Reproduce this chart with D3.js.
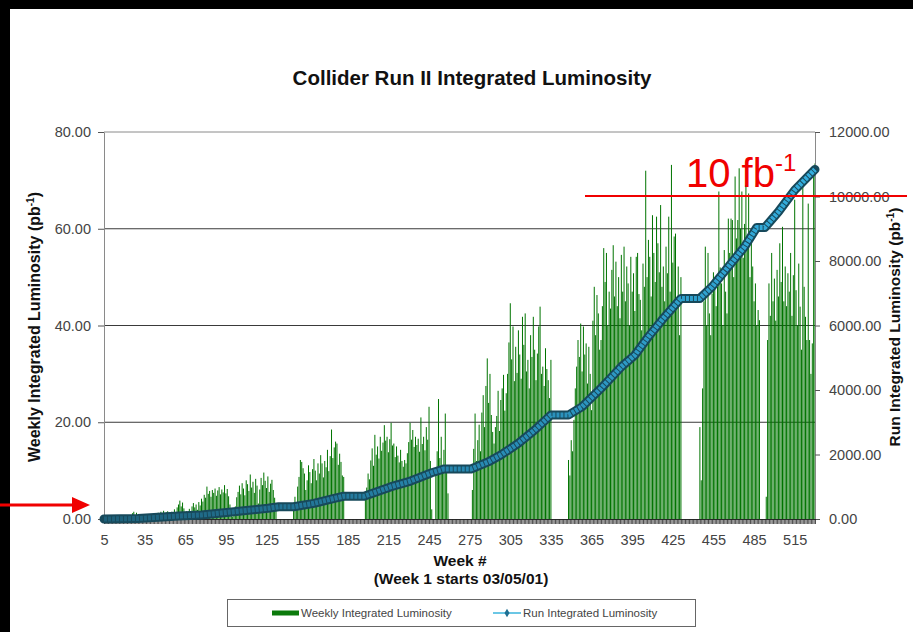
<!DOCTYPE html>
<html>
<head>
<meta charset="utf-8">
<script src="https://cdn.jsdelivr.net/npm/d3@7"></script>
<style>
body { margin: 0; background: #fff; }
svg { display: block; font-family: "Liberation Sans", Arial, sans-serif; }
</style>
</head>
<body>
<svg id="chart" width="913" height="632"></svg>
<script>
// week numbers run from firstWeek, one value per week
var firstWeek = 5;
var lastWeek = 530;

// weekly integrated luminosity (pb-1), rows of 10 weeks starting at week 5
var weekly = [
    0, 0, 0, 0, 0, 0, 0, 0, 0, 0,
    0, 0, 0, 0, 0, 0, 0, 0.2, 0.3, 0.3,
    0.5, 1.2, 1.5, 0.8, 1.3, 0.6, 0.4, 0.5, 0.3, 0.4,
    0.5, 0.6, 0.4, 0.8, 0.7, 1.0, 0.9, 1.2, 0.8, 1.1,
    1.3, 1.0, 1.5, 1.2, 1.7, 1.1, 1.4, 1.6, 1.0, 1.3,
    1.5, 1.2, 2.0, 1.4, 2.4, 3.0, 3.8, 2.6, 3.4, 2.2,
    1.2, 1.6, 1.0, 2.1, 1.5, 2.6, 3.3, 2.4, 3.0, 1.9,
    3.5, 2.8, 4.2, 3.6, 5.0, 4.4, 6.7, 5.2, 5.8, 4.6,
    6.0, 5.4, 6.3, 4.8, 5.9, 6.6, 5.1, 6.1, 5.5, 7.0,
    5.3, 6.2, 4.7, 3.0, 1.2, 0.5, 0.8, 2.6, 4.5, 5.6,
    6.9, 5.1, 7.4, 6.3, 4.9, 8.0, 7.2, 5.8, 9.2, 6.5,
    7.7, 5.4, 8.3, 6.9, 3.2, 6.1, 8.5, 7.0, 9.6, 7.9,
    6.4, 8.8, 5.6, 7.3, 8.1, 6.0, 4.4, 2.1, 0, 0,
    0, 0, 0, 0, 0, 0, 0, 0, 0, 0,
    2.8, 4.6, 3.5, 6.7, 8.7, 12.2, 11.8, 10.5, 9.4, 6.0,
    8.0, 11.1, 9.7, 7.4, 10.3, 12.4, 10.0, 8.0, 11.5, 9.4,
    13.2, 11.5, 8.6, 12.0, 10.7, 14.3, 9.9, 13.0, 18.5, 12.6,
    14.8, 16.0, 15.6, 11.2, 13.5, 11.8, 9.0, 8.7, 0, 0,
    0, 0, 0, 0, 0, 0, 0, 0, 0, 0,
    0, 0, 0, 4.0, 6.5, 9.4, 8.2, 12.1, 14.6, 11.0,
    17.4, 13.3, 15.0, 12.5, 17.0, 14.1, 15.8, 19.4, 16.2, 17.0,
    13.8, 16.5, 19.9, 15.2, 15.6, 12.8, 15.0, 13.1, 11.7, 14.3,
    12.0, 10.8, 12.2, 11.5, 13.6, 15.9, 19.9, 16.4, 18.4, 14.9,
    17.0, 15.3, 16.6, 13.9, 21.0, 15.5, 17.0, 14.2, 19.0, 16.4,
    23.2, 12.0, 2.0, 0, 0, 10.5, 14.0, 24.8, 12.6, 17.0,
    11.2, 14.3, 21.8, 9.5, 5.3, 0, 0, 0, 0, 0,
    0, 0, 0, 0, 0, 0, 0, 0, 0, 0,
    0, 0, 6.0, 14.5, 21.8, 12.0, 16.3, 19.5, 14.0, 22.0,
    25.6, 19.0, 27.5, 33.2, 24.0, 30.0, 21.5, 18.0, 15.6, 19.0,
    21.3, 26.5, 18.2, 24.6, 27.0, 29.8, 22.4, 26.0, 30.0, 36.5,
    44.6, 33.0, 39.8, 28.5, 35.6, 30.2, 39.0, 34.0, 29.0, 41.8,
    36.0, 42.5, 30.5, 32.9, 27.0, 38.0, 33.5, 41.8, 35.0, 28.7,
    34.2, 39.8, 43.9, 30.0, 31.5, 27.5, 35.3, 31.0, 28.7, 25.0,
    32.9, 0, 0, 0, 0, 0, 0, 0, 0, 0,
    0, 0, 0, 12.2, 9.0, 16.3, 14.0, 20.5, 27.0, 31.5,
    37.0, 33.5, 40.4, 30.5, 39.8, 34.0, 36.3, 28.0, 35.6, 30.0,
    22.5, 41.0, 48.0, 38.0, 46.3, 42.5, 35.0, 37.0, 44.0, 56.0,
    49.0, 55.0, 40.0, 47.0, 43.5, 51.5, 56.6, 46.0, 53.2, 44.0,
    50.0, 41.5, 54.6, 47.0, 56.3, 45.0, 52.2, 48.7, 40.0, 54.2,
    47.0, 50.8, 43.0, 54.2, 55.0, 46.5, 45.3, 39.0, 52.8, 48.0,
    72.0, 50.0, 57.7, 54.2, 46.0, 62.8, 55.0, 49.0, 62.5, 57.0,
    51.0, 64.9, 48.0, 52.2, 45.0, 56.3, 50.8, 62.5, 47.0, 73.2,
    53.0, 58.4, 59.0, 44.0, 52.2, 38.0, 50.0, 0, 0, 0,
    0, 0, 0, 0, 0, 0, 0, 0, 0, 0,
    19.0, 8.0, 27.0, 45.0, 56.3, 40.0, 55.0, 42.5, 38.0, 46.6,
    51.0, 48.7, 44.0, 48.0, 67.7, 52.0, 48.7, 40.0, 55.6, 47.0,
    42.5, 62.1, 55.0, 62.1, 61.8, 50.0, 70.8, 58.0, 61.8, 72.5,
    60.0, 67.7, 54.0, 61.0, 69.0, 56.0, 67.3, 50.0, 58.4, 52.2,
    45.0, 48.7, 40.0, 43.2, 41.1, 0, 0, 0, 0, 4.6,
    37.0, 48.7, 42.0, 55.0, 45.0, 49.7, 41.0, 51.5, 46.0, 57.0,
    49.0, 60.4, 45.0, 52.2, 44.0, 50.8, 47.0, 55.0, 42.0, 50.4,
    66.0, 47.3, 40.0, 52.8, 43.9, 35.0, 69.4, 48.0, 41.8, 37.0,
    65.2, 37.0, 30.0, 36.3, 71.8, 73.5
];

// run integrated luminosity (pb-1)
var runWeeks = [5, 30, 60, 77, 101, 126, 134, 145, 160, 175, 182, 197, 217, 230, 247, 256, 276,
    289, 298, 311, 323, 335, 348, 358, 372, 387, 397, 407, 417, 431, 445, 454, 466, 478, 487,
    493, 503, 515, 530];
var runValues = [0, 15, 93, 124, 227, 331, 381, 381, 486, 641, 705, 705, 1002, 1157, 1436, 1550, 1550,
    1777, 1984, 2346, 2759, 3224, 3224, 3481, 4051, 4721, 5084, 5652, 6169, 6841, 6841, 7201, 7821, 8441, 9040,
    9040, 9526, 10199, 10840];

var leftTicks = [0, 20, 40, 60, 80];
var rightTicks = [0, 2000, 4000, 6000, 8000, 10000, 12000];
var weekTicks = [5, 35, 65, 95, 125, 155, 185, 215, 245, 275, 305, 335, 365, 395, 425, 455, 485, 515];

var margin = {top: 132, right: 98, bottom: 113, left: 104};
var width = 913 - margin.left - margin.right;
var height = 632 - margin.top - margin.bottom;

var svg = d3.select("#chart");

var weeks = weekly.map(function(d, i) { return firstWeek + i; });
var runData = runWeeks.map(function(w, i) { return {week: w, value: runValues[i]}; });

var scaleX = d3.scaleLinear().domain([firstWeek, lastWeek]).range([0, width]);
var scaleYL = d3.scaleLinear().domain([0, 80]).range([height, 0]);
var scaleYR = d3.scaleLinear().domain([0, 12000]).range([height, 0]);

// the marker chain looks darker where the curve is flat
var grad = svg.append("defs").append("linearGradient")
    .attr("id", "runGrad")
    .attr("gradientUnits", "userSpaceOnUse")
    .attr("x1", 0).attr("x2", width).attr("y1", 0).attr("y2", 0);
grad.append("stop").attr("offset", "0").attr("stop-color", "#1d5f78");
grad.append("stop").attr("offset", "0.5").attr("stop-color", "#2787b0");
grad.append("stop").attr("offset", "1").attr("stop-color", "#34afdf");

var chart = svg.append("g")
    .attr("transform", "translate(" + margin.left + "," + margin.top + ")");

// gridlines
chart.selectAll(".grid")
    .data(leftTicks.filter(function(d) { return d > 0; }))
    .enter()
    .append("line")
        .attr("x1", 0)
        .attr("x2", width)
        .attr("y1", function(d) { return scaleYL(d); })
        .attr("y2", function(d) { return scaleYL(d); })
        .attr("stroke", function(d) { return d == 80 ? "#8a8a8a" : "#3a3a3a"; })
        .attr("stroke-width", 1);

// weekly bars
chart.selectAll(".bar")
    .data(weekly)
    .enter()
    .append("rect")
        .attr("x", function(d, i) { return scaleX(weeks[i]) - 0.5; })
        .attr("width", 1)
        .attr("y", function(d) { return scaleYL(d); })
        .attr("height", function(d) { return height - scaleYL(d); })
        .attr("fill", "#007400");

// axes
var axisStyle = function(g) {
    g.select(".domain").attr("stroke", "#8a8a8a");
    g.selectAll(".tick line").attr("stroke", "#555");
    g.selectAll("text").attr("fill", "#444").style("font-size", "14.5px")
        .style("font-family", "'Liberation Sans', Arial, sans-serif");
};

chart.append("g")
    .call(d3.axisLeft(scaleYL).tickValues(leftTicks).tickFormat(d3.format(".2f"))
        .tickSize(6).tickSizeOuter(0).tickPadding(7))
    .call(axisStyle);

chart.append("g")
    .attr("transform", "translate(" + width + ",0)")
    .call(d3.axisRight(scaleYR).tickValues(rightTicks).tickFormat(d3.format(".2f"))
        .tickSize(5).tickSizeOuter(0).tickPadding(9))
    .call(axisStyle);

// one tick mark per week under the baseline
chart.append("g")
    .attr("transform", "translate(0," + height + ")")
    .call(d3.axisBottom(scaleX).tickValues(weeks).tickFormat("").tickSize(5).tickSizeOuter(0))
    .call(function(g) {
        g.select(".domain").attr("stroke", "#333");
        g.selectAll(".tick line").attr("stroke", "#222").attr("stroke-width", 0.8);
    });

chart.append("g")
    .attr("transform", "translate(0," + height + ")")
    .call(d3.axisBottom(scaleX).tickValues(weekTicks).tickFormat(d3.format("d")).tickSize(0).tickPadding(16))
    .call(axisStyle)
    .call(function(g) { g.select(".domain").remove(); });

// run integrated line, drawn thick like the chain of markers
var runLine = d3.line()
    .x(function(d) { return scaleX(d.week); })
    .y(function(d) { return scaleYR(d.value); });

chart.append("path")
    .datum(runData)
    .attr("d", runLine)
    .attr("fill", "none")
    .attr("stroke", "#17495b")
    .attr("stroke-width", 9)
    .attr("stroke-linejoin", "round")
    .attr("stroke-linecap", "round");

chart.append("path")
    .datum(runData)
    .attr("d", runLine)
    .attr("fill", "none")
    .attr("stroke", "url(#runGrad)")
    .attr("stroke-width", 5)
    .attr("stroke-dasharray", "3,1")
    .attr("stroke-linejoin", "round");

// titles
svg.append("text")
    .attr("x", 472)
    .attr("y", 85)
    .attr("text-anchor", "middle")
    .style("font-size", "20.5px")
    .style("font-weight", "bold")
    .attr("fill", "#111")
    .text("Collider Run II Integrated Luminosity");

var leftTitle = svg.append("text")
    .attr("transform", "translate(40,327) rotate(-90)")
    .attr("text-anchor", "middle")
    .style("font-size", "16px")
    .style("font-weight", "bold")
    .attr("fill", "#111");
leftTitle.append("tspan").text("Weekly Integrated Luminosity (pb");
leftTitle.append("tspan").attr("dy", -6).style("font-size", "10px").text("-1");
leftTitle.append("tspan").attr("dy", 6).text(")");

var rightTitle = svg.append("text")
    .attr("transform", "translate(900,327) rotate(-90)")
    .attr("text-anchor", "middle")
    .style("font-size", "15.5px")
    .style("font-weight", "bold")
    .attr("fill", "#111");
rightTitle.append("tspan").text("Run Integrated Luminosity (pb");
rightTitle.append("tspan").attr("dy", -6).style("font-size", "10px").text("-1");
rightTitle.append("tspan").attr("dy", 6).text(")");

svg.append("text")
    .attr("x", 460)
    .attr("y", 566)
    .attr("text-anchor", "middle")
    .style("font-size", "15.5px")
    .style("font-weight", "bold")
    .attr("fill", "#111")
    .text("Week #");

svg.append("text")
    .attr("x", 461)
    .attr("y", 584)
    .attr("text-anchor", "middle")
    .style("font-size", "15.5px")
    .style("font-weight", "bold")
    .attr("fill", "#111")
    .text("(Week 1 starts 03/05/01)");

// legend
var legend = svg.append("g");
legend.append("rect")
    .attr("x", 227.5).attr("y", 599.5)
    .attr("width", 468).attr("height", 27)
    .attr("fill", "#fff")
    .attr("stroke", "#666");
legend.append("line")
    .attr("x1", 272).attr("x2", 299).attr("y1", 613).attr("y2", 613)
    .attr("stroke", "#0b7a0b").attr("stroke-width", 5);
legend.append("text")
    .attr("x", 301).attr("y", 617)
    .style("font-size", "11.5px").attr("fill", "#444")
    .text("Weekly Integrated Luminosity");
legend.append("line")
    .attr("x1", 493).attr("x2", 521).attr("y1", 613).attr("y2", 613)
    .attr("stroke", "#3ab4dc").attr("stroke-width", 1.5);
legend.append("path")
    .attr("transform", "translate(507,613)")
    .attr("d", d3.symbol(d3.symbolDiamond, 22)())
    .attr("fill", "#1f6f92");
legend.append("text")
    .attr("x", 523).attr("y", 617)
    .style("font-size", "11.5px").attr("fill", "#444")
    .text("Run Integrated Luminosity");

// screenshot frame
svg.append("rect").attr("x", 0).attr("y", 0).attr("width", 913).attr("height", 9).attr("fill", "#000");
svg.append("rect").attr("x", 0).attr("y", 0).attr("width", 10).attr("height", 632).attr("fill", "#000");

// red annotations
var red = "#f00000";
svg.append("line")
    .attr("x1", 585).attr("x2", 907).attr("y1", 196).attr("y2", 196)
    .attr("stroke", red).attr("stroke-width", 2);

var mark = svg.append("text")
    .attr("x", 686)
    .attr("y", 187)
    .style("font-size", "40px")
    .attr("fill", red);
mark.append("tspan").text("10 fb");
mark.append("tspan").attr("dy", -16).style("font-size", "24px").text("-1");

svg.append("line")
    .attr("x1", 0).attr("x2", 74).attr("y1", 505).attr("y2", 505)
    .attr("stroke", red).attr("stroke-width", 3);
svg.append("path")
    .attr("d", "M72,497 L90,505 L72,513 Z")
    .attr("fill", red);
</script>
</body>
</html>
